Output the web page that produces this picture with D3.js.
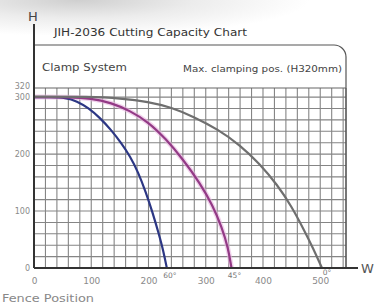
<!DOCTYPE html>
<html><head><meta charset="utf-8">
<script src="https://cdn.jsdelivr.net/npm/d3@7"></script>
<style>html,body{margin:0;padding:0;background:#fff;}svg{display:block;}</style>
</head><body>
<svg id="c" width="387" height="303"></svg>
<script>
const title = "JIH-2036 Cutting Capacity Chart";
const leftNote = "Clamp System";
const rightNote = "Max. clamping pos. (H320mm)";
const xTicks = [0, 100, 200, 300, 400, 500];
const yTicks = [0, 100, 200, 300, 320];
const angleLabels = ["60°", "45°", "0°"];
const blue = [[0,300],[30,300],[55,299],[75,293],[95,281],[115,264],[135,242],[152,220],[168,196],[182,168],[195,134],[207,98],[218,60],[226,30],[232,0]];
const pink = [[0,300],[60,300],[100,298],[135,290],[168,276],[200,256],[230,227],[260,191],[290,149],[312,110],[328,72],[339,36],[345,0]];
const gray = [[0,301],[100,301],[150,298],[200,292],[240,282],[280,265],[320,244],[360,216],[395,182],[425,146],[450,108],[470,70],[488,34],[503,0]];
const series = [
  {name:"60°", data: blue, color:"#2c3784"},
  {name:"45°", data: pink, color:"#933a86"},
  {name:"0°", data: gray, color:"#6f6f6f"}
];

const svg = d3.select("#c");
const defs = svg.append("defs");
const rg = defs.append("radialGradient").attr("id","bg").attr("cx","0.2").attr("cy","0").attr("r","0.6");
rg.append("stop").attr("offset","0%").attr("stop-color","#cfcfcf");
rg.append("stop").attr("offset","50%").attr("stop-color","#ececec");
rg.append("stop").attr("offset","100%").attr("stop-color","#ffffff");
svg.append("rect").attr("width",387).attr("height",60).attr("fill","url(#bg)");
svg.append("rect").attr("y",40).attr("width",387).attr("height",263).attr("fill","#fff");

const x = d3.scaleLinear().domain([0,545]).range([34,346]);
const y = d3.scaleLinear().domain([0,316]).range([268,88]);

// header box
svg.append("path")
  .attr("d", `M${x(0)},${y(316)} L${x(0)},45 L334,45 A12,12 0 0 1 346,57 L346,${y(316)}`)
  .attr("fill","#fff").attr("stroke","#555").attr("stroke-width",1.2);

svg.append("text").attr("x",54).attr("y",36).attr("font-family","DejaVu Sans").attr("font-size",10)
  .attr("fill","#333").attr("textLength",193).attr("lengthAdjust","spacingAndGlyphs").text(title);
svg.append("text").attr("x",42).attr("y",71).attr("font-family","DejaVu Sans").attr("font-size",10)
  .attr("fill","#444").attr("textLength",85).attr("lengthAdjust","spacingAndGlyphs").text(leftNote);
svg.append("text").attr("x",183).attr("y",72).attr("font-family","DejaVu Sans").attr("font-size",8.5)
  .attr("fill","#444").attr("textLength",159).attr("lengthAdjust","spacingAndGlyphs").text(rightNote);

// grid
const g = svg.append("g");
g.selectAll("line.v").data(d3.range(20,545,20)).join("line")
  .attr("x1",d=>x(d)).attr("x2",d=>x(d)).attr("y1",y(0)).attr("y2",y(316))
  .attr("stroke","#858585").attr("stroke-width",1.1);
g.selectAll("line.h").data(d3.range(20,316,20)).join("line")
  .attr("y1",d=>y(d)).attr("y2",d=>y(d)).attr("x1",x(0)).attr("x2",x(545))
  .attr("stroke","#858585").attr("stroke-width",1.1);
g.append("line").attr("x1",x(0)).attr("x2",x(545)).attr("y1",y(316)).attr("y2",y(316)).attr("stroke","#666").attr("stroke-width",1.2);
g.append("line").attr("x1",x(545)).attr("x2",x(545)).attr("y1",y(0)).attr("y2",y(316)).attr("stroke","#555").attr("stroke-width",1.6);

// curves
const line = d3.line().x(d=>x(d[0])).y(d=>y(d[1])).curve(d3.curveBasis);
svg.append("path").attr("d", line(pink)).attr("fill","none").attr("stroke","#e8b6e0").attr("stroke-width",5).attr("opacity",0.6);
series.forEach(s=>{
  svg.append("path").attr("d", line(s.data)).attr("fill","none").attr("stroke",s.color).attr("stroke-width",2.2);
});

// axes lines
svg.append("line").attr("x1",x(0)).attr("x2",358).attr("y1",y(0)).attr("y2",y(0)).attr("stroke","#333").attr("stroke-width",2);
svg.append("line").attr("x1",x(0)).attr("x2",x(0)).attr("y1",y(0)).attr("y2",24).attr("stroke","#333").attr("stroke-width",2);
svg.append("text").attr("x",33).attr("y",21).attr("text-anchor","middle").attr("font-family","DejaVu Sans").attr("font-size",13).attr("fill","#444").text("H");
svg.append("text").attr("x",361).attr("y",273).attr("font-family","DejaVu Sans").attr("font-size",13).attr("fill","#555").text("W");

// tick labels
const xa = svg.append("g").attr("transform",`translate(0,${y(0)})`)
  .call(d3.axisBottom(x).tickValues(xTicks).tickSize(0).tickPadding(10).tickFormat(d3.format("d")));
xa.select(".domain").remove();
xa.selectAll("text").attr("font-family","DejaVu Sans").attr("font-size",9).attr("fill","#8a8a8a");
const ya = svg.append("g").attr("transform",`translate(${x(0)-3},0)`)
  .call(d3.axisLeft(y).tickValues(yTicks).tickSize(0).tickPadding(1).tickFormat(d3.format("d")));
ya.select(".domain").remove();
ya.selectAll("text").attr("font-family","DejaVu Sans").attr("font-size",8).attr("fill","#8a8a8a");

// angle labels
svg.selectAll("text.ang").data(series).join("text").attr("class","ang")
  .attr("x",(d,i)=>x(d.data[d.data.length-1][0])+(i===2?5:3)).attr("y",(d,i)=> i===2 ? 275 : 278)
  .attr("text-anchor","middle").attr("font-family","DejaVu Sans").attr("font-size",7.5).attr("fill","#777")
  .text((d,i)=>angleLabels[i]);

svg.append("text").attr("x",2).attr("y",302).attr("font-family","DejaVu Sans").attr("font-size",10).attr("fill","#888")
  .attr("textLength",92).attr("lengthAdjust","spacingAndGlyphs").text("Fence Position");
</script>
</body></html>
